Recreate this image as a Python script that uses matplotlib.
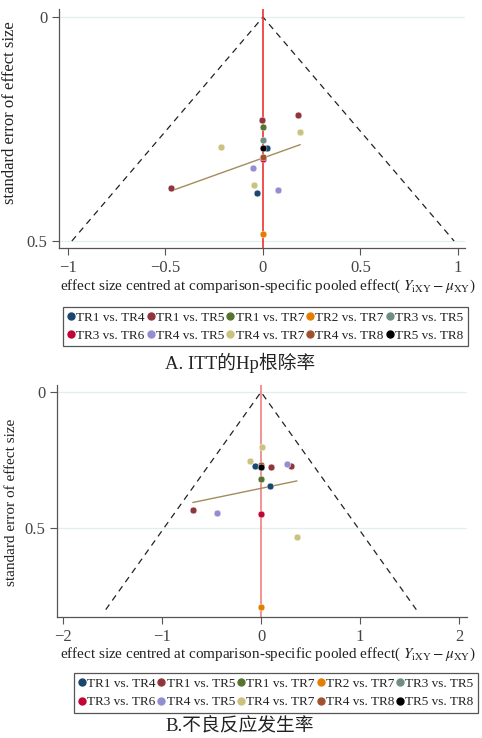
import numpy as np
import matplotlib
matplotlib.use("Agg")
import matplotlib.pyplot as plt
from matplotlib.lines import Line2D

plt.rcParams['font.family'] = ['Liberation Serif', 'Noto Sans CJK SC', 'DejaVu Sans']
plt.rcParams['mathtext.fontset'] = 'stix'

# Comparisons and colours (Stata s2color)
comparisons = ["TR1 vs. TR4", "TR1 vs. TR5", "TR1 vs. TR7", "TR2 vs. TR7", "TR3 vs. TR5",
               "TR3 vs. TR6", "TR4 vs. TR5", "TR4 vs. TR7", "TR4 vs. TR8", "TR5 vs. TR8"]
colors = ["#1a476f", "#90353b", "#55752f", "#e37e00", "#6e8e84",
          "#c10534", "#938dd2", "#cac27e", "#a0522d", "#000000"]

# A. ITT Hp eradication: centred effect (x) and standard error (y) per comparison
a_x = [[0.02, -0.031], [-0.005, 0.178, -0.47], [0.0], [0.0], [0.0],
       [0.0], [-0.053, 0.075], [0.19, -0.214, -0.046], [0.0], [0.0]]
a_se = [[0.293, 0.392], [0.23, 0.219, 0.381], [0.245], [0.485], [0.275],
        [0.316], [0.336, 0.387], [0.257, 0.291, 0.374], [0.312], [0.293]]
a_fit_x = [-0.47, 0.19]
a_fit_se = [0.388, 0.285]
a_se_max = 0.5

# B. adverse reactions
b_x = [[-0.06, 0.088], [0.098, 0.303, -0.687], [0.0], [0.0], [0.0],
       [0.0], [0.266, -0.448], [0.013, -0.114, 0.364], [0.0], [0.0]]
b_se = [[0.271, 0.346], [0.277, 0.271, 0.435], [0.319], [0.792], [0.277],
        [0.45], [0.265, 0.444], [0.202, 0.255, 0.533], [0.27], [0.277]]
b_fit_x = [-0.687, 0.36]
b_fit_se = [0.406, 0.327]
b_se_max = 0.8

xlabel = "effect size centred at comparison-specific pooled effect( $Y_{\\mathrm{iXY}}-\\mu_{\\mathrm{XY}}$)"
ylabel = "standard error of effect size"

fig = plt.figure(figsize=(4.82, 7.38), dpi=100)


def funnel(ax, xs, ses, fit_x, fit_se, se_max, xlim, ylim, xticks, yticks, redcol):
    for t in yticks:
        ax.axhline(t, color="#e3eeee", lw=0.9, zorder=0)
    z = 1.96
    ax.plot([-z * se_max, 0, z * se_max], [se_max, 0, se_max], ls=(0, (5, 4)),
            color="#222222", lw=0.9, zorder=1)
    ax.axvline(0, color=redcol, lw=1.2, zorder=2)
    ax.plot(fit_x, fit_se, color="#a38c5a", lw=1.0, zorder=2)
    for x, s, c in zip(xs, ses, colors):
        ax.scatter(x, s, s=24, color=c, edgecolors="white", linewidths=0.3, zorder=3)
    ax.set_xlim(*xlim)
    ax.set_ylim(*ylim)
    ax.set_xticks(xticks)
    ax.set_yticks(yticks)
    ax.set_xticklabels([f"{t:g}".replace("-", "\u2212") for t in xticks])
    ax.set_yticklabels([f"{t:g}" for t in yticks])
    for sp in ["top", "right"]:
        ax.spines[sp].set_visible(False)
    for sp in ["left", "bottom"]:
        ax.spines[sp].set_color("#555555")
        ax.spines[sp].set_linewidth(0.9)
    ax.tick_params(colors="#555555", labelcolor="#444444", labelsize=12, length=5, width=0.8)


ax1 = fig.add_axes([0.1224, 0.6640, 0.8423, 0.3238])
funnel(ax1, a_x, a_se, a_fit_x, a_fit_se, a_se_max, (-1.046, 1.036), (0.5156, -0.018),
       [-1, -0.5, 0, 0.5, 1], [0, 0.5], "#f03030")
ax1.set_xlabel(xlabel, fontsize=10.9, color="#222222")
ax1.set_ylabel(ylabel, fontsize=12, color="#222222")
ax1.xaxis.set_label_coords(0.515, -0.125)
ax1.yaxis.set_label_coords(-0.10, 0.565)

ax2 = fig.add_axes([0.1183, 0.1640, 0.8506, 0.3144])
funnel(ax2, b_x, b_se, b_fit_x, b_fit_se, b_se_max, (-2.06, 2.08), (0.827, -0.026),
       [-2, -1, 0, 1, 2], [0, 0.5], "#f08080")
ax2.set_xlabel(xlabel, fontsize=10.9, color="#222222")
ax2.set_ylabel(ylabel, fontsize=11, color="#222222")
ax2.xaxis.set_label_coords(0.513, -0.125)
ax2.yaxis.set_label_coords(-0.095, 0.496)

# legends (row-wise order with 5 columns)
handles = [Line2D([], [], ls="none", marker="o", ms=5, color=c) for c in colors]
order = [0, 5, 1, 6, 2, 7, 3, 8, 4, 9]
for cx, cy in [(265.5, 326.5), (276, 693)]:
    leg = fig.legend([handles[i] for i in order], [comparisons[i] for i in order],
                     ncol=5, loc="center", bbox_to_anchor=(cx / 482, 1 - cy / 738),
                     fontsize=9.5, handlelength=0.5, handletextpad=0.15, columnspacing=0.2,
                     labelspacing=0.45, borderpad=0.35, fancybox=False, framealpha=1,
                     borderaxespad=0)
    leg.get_frame().set_edgecolor("#555555")
    leg.get_frame().set_linewidth(0.9)
    for t in leg.get_texts():
        t.set_color("#222222")

fig.text(240 / 482, 1 - 363 / 738, "A. ITT的Hp根除率", ha="center", va="center",
         fontsize=13.5, color="#222222")
fig.text(240 / 482, 1 - 727 / 738, "B.不良反应发生率", ha="center", va="center",
         fontsize=13.5, color="#222222")

fig.savefig("out.png", dpi=100)
